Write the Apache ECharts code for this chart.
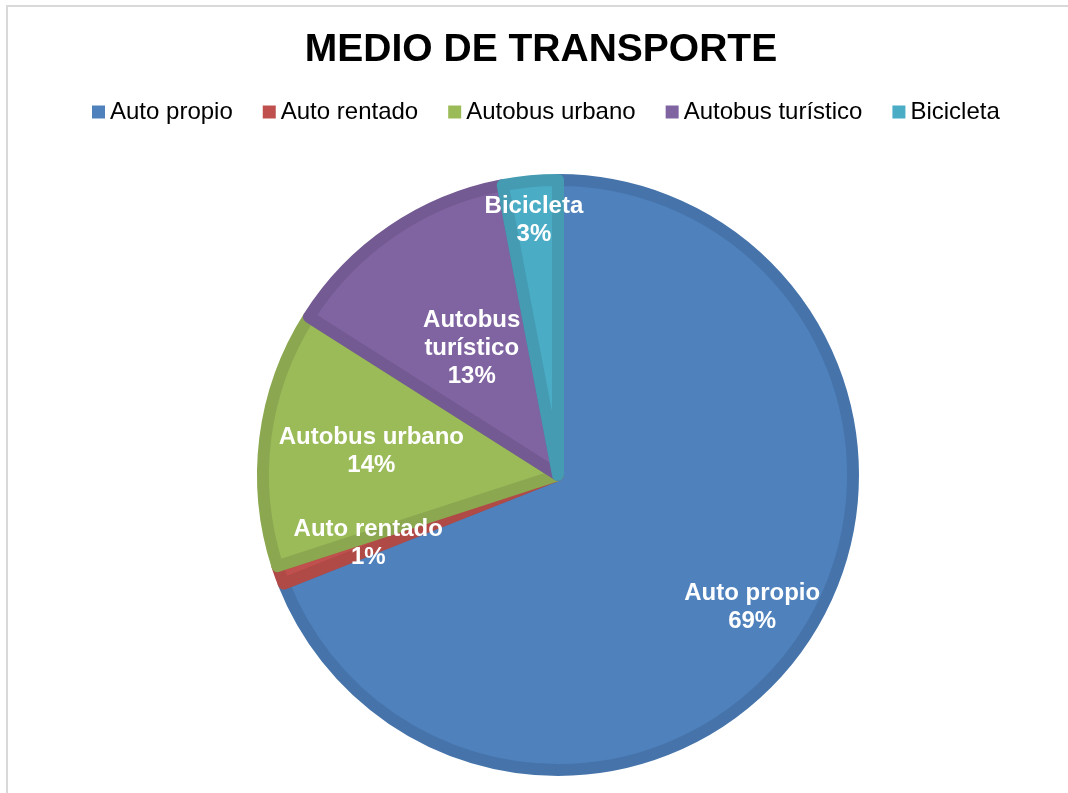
<!DOCTYPE html>
<html>
<head>
<meta charset="utf-8">
<style>
  html, body { margin: 0; padding: 0; background: #fff; overflow: hidden; }
  #frame {
    position: absolute; left: 6px; top: 5px; width: 1100px; height: 820px;
    border-left: 2px solid #d9d9d9; border-top: 2px solid #d9d9d9;
  }
  #pie { position: absolute; left: 7px; top: 0; width: 1068px; height: 793px; }
</style>
<script src="https://cdn.jsdelivr.net/npm/echarts@6/dist/echarts.min.js"></script>
</head>
<body>
<div id="frame"></div>
<div id="pie"></div>
<script>
// datos (porcentajes)
const categories = ['Auto propio', 'Auto rentado', 'Autobus urbano', 'Autobus turístico', 'Bicicleta'];
const values = [69, 1, 14, 13, 3];

const fillColors = ['#4F81BD', '#C0504D', '#9BBB59', '#8064A2', '#4BACC6'];
const lineColors = ['#4674AA', '#B04A47', '#8BA850', '#735A92', '#449BB2'];
// distancia de cada etiqueta al centro, como fracción del radio
const labelReach = [0.78, 0.67, 0.625, 0.51, 0.85];

const pieCenter = [551, 475];
const pieRadius = 295;

const chart = echarts.init(document.getElementById('pie'));

const option = {
  animation: false,
  title: {
    text: 'MEDIO DE TRANSPORTE',
    left: 'center',
    top: 26,
    textStyle: {
      fontFamily: 'Liberation Sans, Arial',
      fontSize: 39,
      fontWeight: 'bold',
      color: '#000'
    }
  },
  legend: {
    data: categories,
    left: 80,
    top: 95,
    icon: 'rect',
    itemWidth: 13,
    itemHeight: 13,
    itemGap: 30,
    itemStyle: { borderWidth: 0 },
    textStyle: {
      fontFamily: 'Liberation Sans, Arial',
      fontSize: 24,
      color: '#000'
    }
  },
  series: [{
    type: 'pie',
    center: pieCenter,
    radius: pieRadius,
    startAngle: 90,
    clockwise: true,
    label: {
      position: 'inside',
      color: '#fff',
      fontFamily: 'Liberation Sans, Arial',
      fontSize: 24,
      fontWeight: 'bold',
      lineHeight: 28,
      align: 'center',
      formatter: function (p) {
        let name = p.name;
        if (p.dataIndex === 3) {
          name = name.replace(' ', '\n');
        }
        return name + '\n' + p.value + '%';
      }
    },
    labelLine: { show: false },
    labelLayout: function (params) {
      const r = params.labelRect;
      const lx = r.x + r.width / 2;
      const ly = r.y + r.height / 2;
      const vx = lx - pieCenter[0];
      const vy = ly - pieCenter[1];
      const d = Math.sqrt(vx * vx + vy * vy) || 1;
      const k = labelReach[params.dataIndex] * 301 / d;
      return {
        dx: vx * (k - 1),
        dy: vy * (k - 1)
      };
    },
    data: categories.map(function (name, i) {
      return {
        name: name,
        value: values[i],
        itemStyle: {
          color: fillColors[i],
          borderColor: lineColors[i],
          borderWidth: 12,
          borderJoin: 'round'
        }
      };
    })
  }]
};

option && chart.setOption(option);
</script>
</body>
</html>
